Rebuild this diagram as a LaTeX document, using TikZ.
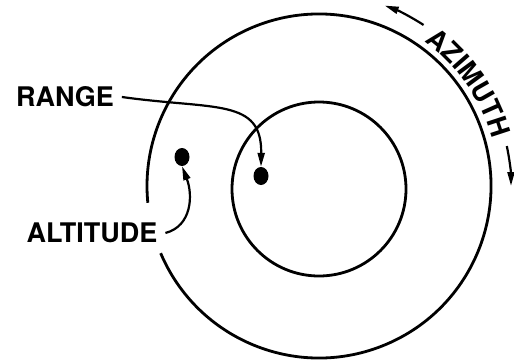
\documentclass[tikz,border=0pt]{standalone}
\usepackage{fontspec}
\setsansfont{TeX Gyre Heros}
\usetikzlibrary{arrows.meta,shapes.geometric,decorations.text}
\newcommand{\lblfont}{\sffamily\bfseries\fontsize{27}{29}\selectfont}
\tikzset{
  ring/.style={line width=2.8pt},
  lbl/.style={font=\lblfont,inner sep=0pt,outer sep=8pt},
  blip/.style={ellipse,fill=black,minimum width=15pt,minimum height=18pt,inner sep=0pt},
  lead/.style={line width=2.2pt,-{Triangle[length=14pt,width=7pt]}},
}

\begin{document}
\begin{tikzpicture}[x=1pt,y=1pt]
  \useasboundingbox (0,0) rectangle (514,360);
  \coordinate (o) at (319,174);
  \coordinate (c) at (319,171);
  % outer ring, broken where the altitude label sits
  \draw[ring] (o) ++(203:172) arc[start angle=203,end angle=545.6,radius=172];
  \draw[ring] (c) circle[radius=87];
  \node[lbl] (range) at (65,263) {RANGE};
  \node[lbl] (alt) at (92,127) {ALTITUDE};
  \node[blip] (rdot) at (261,184) {};
  \node[blip] (adot) at (182,203) {};
  \draw[lead] (range.east) .. controls (215,250) and (262,262) .. (rdot.north);
  \draw[lead] (alt.east) .. controls (192,134) and (193,165) .. (adot.south);
  % azimuth label along the outer ring
  \path[decorate,decoration={text along path,text align=center,text={|\lblfont|AZIMUTH}}]
    (o) ++(56:179) arc[start angle=56,end angle=13,radius=179];
  \draw[lead] (o) ++(57:192) arc[start angle=57,end angle=70,radius=192];
  \draw[lead] (o) ++(12:192) arc[start angle=12,end angle=0,radius=192];
\end{tikzpicture}
\end{document}
